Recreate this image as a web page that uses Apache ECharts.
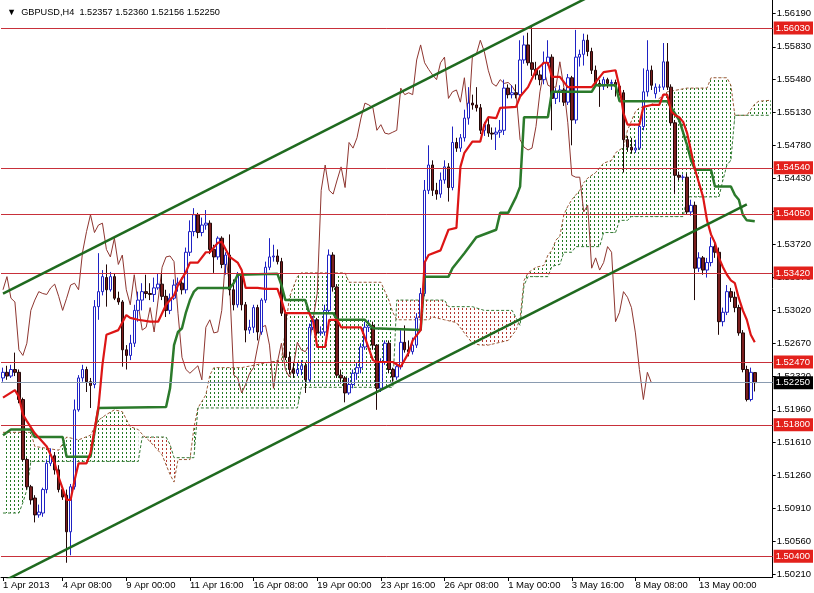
<!DOCTYPE html>
<html><head><meta charset="utf-8">
<script src="https://cdn.jsdelivr.net/npm/echarts/dist/echarts.min.js"></script>
<style>html,body{margin:0;padding:0;background:#fff}#c{width:814px;height:593px}</style>
</head><body><div id="c"></div>
<script>
// ---- data (GBPUSD H4, index 0 = 1 Apr 2013 20:00) ----
// [open, close, low, high]
const ohlc = [
[1.5230,1.5236,1.5226,1.5241],[1.5236,1.5232,1.5228,1.5243],[1.5232,1.5239,1.5230,1.5244],[1.5239,1.5236,1.5232,1.5257],
[1.5236,1.5207,1.5203,1.5239],[1.5207,1.5143,1.5141,1.5209],[1.5143,1.5114,1.5111,1.5145],[1.5114,1.5100,1.5095,1.5116],
[1.5102,1.5084,1.5076,1.5105],[1.5084,1.5087,1.5081,1.5095],[1.5086,1.5111,1.5082,1.5113],[1.5111,1.5139,1.5107,1.5143],
[1.5139,1.5148,1.5136,1.5155],[1.5147,1.5132,1.5127,1.5151],[1.5132,1.5111,1.5108,1.5137],[1.5111,1.5103,1.5100,1.5114],
[1.5105,1.5066,1.5033,1.5111],[1.5066,1.5114,1.5041,1.5117],[1.5114,1.5196,1.5111,1.5207],[1.5196,1.5230,1.5194,1.5233],
[1.5230,1.5239,1.5226,1.5244],[1.5239,1.5226,1.5215,1.5242],[1.5226,1.5222,1.5198,1.5230],[1.5223,1.5306,1.5219,1.5313],
[1.5306,1.5322,1.5292,1.5363],[1.5322,1.5338,1.5318,1.5345],[1.5337,1.5324,1.5306,1.5351],[1.5324,1.5338,1.5322,1.5343],
[1.5338,1.5315,1.5313,1.5341],[1.5315,1.5311,1.5308,1.5322],[1.5311,1.5260,1.5242,1.5313],[1.5260,1.5254,1.5239,1.5265],
[1.5254,1.5267,1.5249,1.5276],[1.5267,1.5302,1.5263,1.5308],[1.5302,1.5313,1.5290,1.5322],[1.5313,1.5322,1.5302,1.5331],
[1.5322,1.5320,1.5315,1.5340],[1.5320,1.5319,1.5313,1.5331],[1.5319,1.5326,1.5311,1.5337],[1.5326,1.5330,1.5324,1.5341],
[1.5330,1.5317,1.5313,1.5342],[1.5317,1.5302,1.5295,1.5324],[1.5302,1.5315,1.5298,1.5320],[1.5315,1.5329,1.5313,1.5335],
[1.5329,1.5331,1.5322,1.5337],[1.5331,1.5324,1.5319,1.5337],[1.5324,1.5364,1.5320,1.5369],[1.5364,1.5386,1.5360,1.5398],
[1.5386,1.5404,1.5381,1.5411],[1.5404,1.5385,1.5379,1.5406],[1.5385,1.5393,1.5381,1.5401],[1.5393,1.5395,1.5388,1.5409],
[1.5395,1.5367,1.5362,1.5398],[1.5367,1.5359,1.5342,1.5372],[1.5359,1.5379,1.5356,1.5381],[1.5379,1.5351,1.5347,1.5381],
[1.5351,1.5361,1.5340,1.5364],[1.5361,1.5324,1.5318,1.5383],[1.5324,1.5308,1.5302,1.5335],[1.5308,1.5340,1.5305,1.5343],
[1.5340,1.5308,1.5302,1.5345],[1.5308,1.5281,1.5268,1.5311],[1.5281,1.5284,1.5277,1.5292],[1.5284,1.5305,1.5278,1.5308],
[1.5305,1.5279,1.5270,1.5308],[1.5279,1.5313,1.5276,1.5315],[1.5313,1.5348,1.5310,1.5354],[1.5348,1.5359,1.5345,1.5379],
[1.5359,1.5360,1.5354,1.5372],[1.5360,1.5354,1.5351,1.5367],[1.5354,1.5299,1.5296,1.5358],[1.5299,1.5252,1.5249,1.5302],
[1.5252,1.5239,1.5234,1.5258],[1.5239,1.5235,1.5230,1.5247],[1.5235,1.5239,1.5232,1.5247],[1.5239,1.5243,1.5233,1.5249],
[1.5243,1.5228,1.5214,1.5247],[1.5228,1.5284,1.5226,1.5288],[1.5284,1.5292,1.5281,1.5296],[1.5292,1.5278,1.5275,1.5294],
[1.5278,1.5279,1.5275,1.5285],[1.5279,1.5302,1.5275,1.5308],[1.5302,1.5361,1.5300,1.5367],[1.5361,1.5327,1.5322,1.5364],
[1.5327,1.5233,1.5230,1.5330],[1.5233,1.5230,1.5224,1.5239],[1.5230,1.5214,1.5204,1.5232],[1.5214,1.5223,1.5212,1.5230],
[1.5223,1.5235,1.5219,1.5239],[1.5235,1.5241,1.5228,1.5247],[1.5241,1.5263,1.5235,1.5267],[1.5263,1.5284,1.5260,1.5290],
[1.5284,1.5286,1.5279,1.5292],[1.5286,1.5265,1.5260,1.5290],[1.5265,1.5219,1.5196,1.5266],[1.5219,1.5247,1.5215,1.5251],
[1.5247,1.5267,1.5244,1.5270],[1.5267,1.5239,1.5235,1.5270],[1.5239,1.5231,1.5226,1.5241],[1.5231,1.5242,1.5228,1.5247],
[1.5242,1.5268,1.5239,1.5281],[1.5268,1.5260,1.5257,1.5286],[1.5260,1.5258,1.5253,1.5270],[1.5258,1.5265,1.5255,1.5273],
[1.5265,1.5294,1.5262,1.5299],[1.5294,1.5320,1.5290,1.5326],[1.5320,1.5430,1.5317,1.5441],[1.5430,1.5457,1.5426,1.5478],
[1.5457,1.5430,1.5424,1.5462],[1.5430,1.5426,1.5420,1.5438],[1.5426,1.5441,1.5422,1.5449],[1.5441,1.5455,1.5437,1.5462],
[1.5455,1.5433,1.5418,1.5459],[1.5433,1.5481,1.5430,1.5498],[1.5481,1.5475,1.5471,1.5486],[1.5475,1.5486,1.5471,1.5490],
[1.5486,1.5507,1.5482,1.5516],[1.5507,1.5523,1.5500,1.5540],[1.5523,1.5521,1.5516,1.5532],[1.5521,1.5518,1.5514,1.5540],
[1.5518,1.5494,1.5490,1.5522],[1.5494,1.5500,1.5488,1.5503],[1.5500,1.5491,1.5487,1.5507],[1.5491,1.5490,1.5484,1.5497],
[1.5490,1.5492,1.5473,1.5497],[1.5492,1.5494,1.5486,1.5505],[1.5494,1.5539,1.5489,1.5548],[1.5539,1.5532,1.5528,1.5543],
[1.5532,1.5534,1.5528,1.5542],[1.5534,1.5532,1.5528,1.5543],[1.5532,1.5569,1.5528,1.5590],[1.5569,1.5585,1.5565,1.5595],
[1.5585,1.5566,1.5563,1.5598],[1.5566,1.5559,1.5552,1.5604],[1.5559,1.5553,1.5548,1.5567],[1.5553,1.5548,1.5542,1.5558],
[1.5548,1.5566,1.5543,1.5578],[1.5566,1.5572,1.5563,1.5590],[1.5572,1.5528,1.5494,1.5575],[1.5528,1.5535,1.5522,1.5539],
[1.5535,1.5537,1.5524,1.5542],[1.5537,1.5524,1.5520,1.5539],[1.5524,1.5550,1.5521,1.5554],[1.5550,1.5505,1.5478,1.5552],
[1.5505,1.5572,1.5501,1.5601],[1.5572,1.5575,1.5562,1.5580],[1.5575,1.5590,1.5563,1.5597],[1.5590,1.5578,1.5573,1.5596],
[1.5578,1.5558,1.5554,1.5582],[1.5558,1.5544,1.5540,1.5563],[1.5544,1.5541,1.5519,1.5548],[1.5541,1.5548,1.5537,1.5551],
[1.5548,1.5544,1.5539,1.5550],[1.5544,1.5545,1.5537,1.5548],[1.5545,1.5541,1.5530,1.5548],[1.5541,1.5534,1.5531,1.5543],
[1.5534,1.5484,1.5449,1.5537],[1.5484,1.5476,1.5471,1.5488],[1.5476,1.5473,1.5469,1.5486],[1.5473,1.5475,1.5470,1.5484],
[1.5475,1.5498,1.5473,1.5503],[1.5498,1.5535,1.5494,1.5560],[1.5535,1.5558,1.5530,1.5590],[1.5558,1.5542,1.5537,1.5563],
[1.5533,1.5540,1.5528,1.5544],[1.5540,1.5540,1.5535,1.5543],[1.5540,1.5567,1.5537,1.5587],[1.5567,1.5540,1.5537,1.5587],
[1.5540,1.5502,1.5499,1.5543],[1.5502,1.5446,1.5426,1.5505],[1.5446,1.5444,1.5441,1.5450],[1.5444,1.5444,1.5441,1.5447],
[1.5444,1.5407,1.5404,1.5448],[1.5407,1.5414,1.5403,1.5420],[1.5414,1.5347,1.5313,1.5418],[1.5347,1.5358,1.5343,1.5364],
[1.5358,1.5345,1.5340,1.5360],[1.5345,1.5353,1.5337,1.5358],[1.5353,1.5370,1.5349,1.5380],[1.5370,1.5364,1.5358,1.5377],
[1.5364,1.5290,1.5276,1.5369],[1.5290,1.5300,1.5285,1.5305],[1.5300,1.5322,1.5297,1.5329],[1.5322,1.5316,1.5311,1.5326],
[1.5316,1.5305,1.5300,1.5322],[1.5305,1.5278,1.5275,1.5308],[1.5278,1.5239,1.5236,1.5281],[1.5239,1.5207,1.5205,1.5243],
[1.5207,1.5236,1.5205,1.5241],[1.52357,1.52250,1.52156,1.52360]
];
// Ichimoku lines: [barIndex, price]
const tenkan = [[0,1.5209],[3,1.5217],[4,1.5210],[5,1.5191],[6,1.5184],[8,1.5171],[11,1.5157],[13,1.5139],[14,1.5124],[16,1.5100],[17,1.5100],[18,1.5121],[19,1.5139],[21,1.5139],[22,1.5150],[24,1.5199],[25,1.5244],[26,1.5276],[29,1.5281],[31,1.5297],[32,1.5294],[34,1.5292],[37,1.5290],[39,1.5290],[40,1.5299],[41,1.5308],[43,1.5318],[44,1.5329],[46,1.5343],[47,1.5353],[49,1.5353],[51,1.5364],[52,1.5364],[54,1.5374],[55,1.5375],[57,1.5359],[59,1.5353],[60,1.5345],[61,1.5326],[64,1.5326],[66,1.5325],[69,1.5325],[70,1.5313],[71,1.5299],[77,1.5299],[78,1.5290],[79,1.5263],[81,1.5263],[82,1.5292],[84,1.5292],[85,1.5284],[90,1.5284],[91,1.5273],[93,1.5249],[94,1.5247],[98,1.5247],[100,1.5242],[102,1.5257],[103,1.5270],[105,1.5281],[106,1.5353],[107,1.5361],[110,1.5366],[112,1.5388],[114,1.5390],[115,1.5455],[116,1.5470],[118,1.5482],[120,1.5482],[121,1.5500],[122,1.5508],[124,1.5507],[125,1.5518],[129,1.5519],[130,1.5530],[132,1.5540],[134,1.5558],[136,1.5566],[137,1.5566],[138,1.5551],[140,1.5551],[142,1.5540],[148,1.5540],[151,1.5556],[154,1.5558],[155,1.5540],[156,1.5512],[157,1.5500],[160,1.5500],[161,1.5519],[163,1.5521],[165,1.5521],[166,1.5532],[167,1.5532],[168,1.5514],[169,1.5510],[170,1.5508],[171,1.5503],[172,1.5491],[174,1.5452],[176,1.5423],[177,1.5398],[178,1.5383],[179,1.5374],[180,1.5358],[181,1.5348],[182,1.5340],[183,1.5334],[184,1.5331],[185,1.5315],[186,1.5302],[187,1.5292],[188,1.5276],[189,1.5268]];
const kijun = [[0,1.5169],[2,1.5175],[7,1.5175],[8,1.5167],[15,1.5167],[16,1.5146],[22,1.5146],[24,1.5198],[41,1.5199],[42,1.5219],[43,1.5265],[44,1.5279],[45,1.5283],[46,1.5300],[47,1.5313],[48,1.5322],[49,1.5326],[57,1.5326],[58,1.5331],[59,1.5340],[69,1.5341],[70,1.5329],[71,1.5313],[76,1.5313],[77,1.5299],[83,1.5299],[84,1.5292],[91,1.5292],[93,1.5283],[105,1.5281],[106,1.5338],[112,1.5338],[113,1.5347],[116,1.5363],[119,1.5380],[124,1.5388],[125,1.5406],[127,1.5406],[129,1.5423],[130,1.5434],[131,1.5508],[137,1.5508],[138,1.5535],[148,1.5535],[149,1.5542],[154,1.5542],[155,1.5525],[167,1.5525],[168,1.5518],[170,1.5505],[172,1.5478],[173,1.5462],[174,1.5452],[178,1.5452],[179,1.5434],[183,1.5434],[184,1.5425],[185,1.5420],[186,1.5404],[187,1.5398],[189,1.5397]];
const senkouA = [[0,1.5172],[7,1.5172],[8,1.5157],[14,1.5153],[16,1.5167],[19,1.5164],[22,1.5169],[24,1.5185],[26,1.5191],[28,1.5196],[30,1.5194],[32,1.5178],[34,1.5175],[35,1.5170],[37,1.5162],[40,1.5148],[42,1.5127],[43,1.5119],[44,1.5143],[47,1.5143],[48,1.5177],[49,1.5198],[51,1.5212],[52,1.5233],[53,1.5241],[60,1.5241],[66,1.5246],[70,1.5249],[71,1.5281],[72,1.5316],[74,1.5338],[75,1.5342],[86,1.5342],[87,1.5332],[95,1.5332],[97,1.5313],[98,1.5300],[99,1.5292],[107,1.5292],[108,1.5295],[111,1.5292],[114,1.5289],[118,1.5267],[120,1.5265],[122,1.5265],[124,1.5267],[127,1.5270],[129,1.5281],[130,1.5294],[131,1.5334],[132,1.5342],[134,1.5348],[136,1.5350],[137,1.5361],[138,1.5366],[139,1.5377],[140,1.5381],[141,1.5404],[142,1.5413],[143,1.5420],[145,1.5430],[146,1.5438],[147,1.5443],[149,1.5449],[151,1.5459],[153,1.5462],[154,1.5470],[156,1.5476],[157,1.5494],[159,1.5514],[160,1.5518],[163,1.5521],[167,1.5535],[172,1.5539],[177,1.5539],[178,1.5550],[182,1.5550],[183,1.5542],[184,1.5510],[187,1.5510],[188,1.5516],[189,1.5522],[190,1.5525],[193,1.5526]];
const senkouB = [[0,1.5086],[4,1.5086],[5,1.5097],[6,1.5111],[7,1.5141],[34,1.5141],[35,1.5167],[41,1.5167],[42,1.5159],[43,1.5145],[47,1.5145],[48,1.5145],[49,1.5198],[74,1.5198],[75,1.5220],[98,1.5220],[99,1.5313],[111,1.5313],[112,1.5306],[118,1.5306],[121,1.5302],[128,1.5302],[129,1.5294],[130,1.5286],[131,1.5329],[132,1.5338],[137,1.5338],[138,1.5349],[140,1.5351],[141,1.5364],[143,1.5364],[144,1.5370],[150,1.5370],[151,1.5385],[154,1.5385],[155,1.5398],[157,1.5398],[158,1.5402],[171,1.5402],[172,1.5423],[180,1.5423],[181,1.5441],[182,1.5457],[183,1.5462],[184,1.5510],[193,1.5510]];
// cloud pieces: [fromIndex, toIndex, 1 = span A above (green), 0 = span B above (red)]
const cloudSegments = [[0,34,1],[35,47,0],[47,98,1],[99,130,0],[131,193,1]];
// drawn trend channel: [barIndex, price]
const channelUpper = [[0,1.5320],[150,1.5642]];
const channelLower = [[0,1.5013],[187,1.5415]];
const levels = [1.5603,1.5454,1.5405,1.5342,1.5247,1.5180,1.5040];
const bidPrice = 1.5225;
const yTicks = [1.5021,1.5056,1.5091,1.5126,1.5161,1.5196,1.5232,1.5267,1.5302,1.5337,1.5372,1.5408,1.5443,1.5478,1.5513,1.5548,1.5583,1.5619];
const xTickIndex = [0,15,31,47,63,79,95,111,127,143,159,175];
const xTickText = ['1 Apr 2013','4 Apr 08:00','9 Apr 00:00','11 Apr 16:00','16 Apr 08:00','19 Apr 00:00','23 Apr 16:00','26 Apr 08:00','1 May 00:00','3 May 16:00','8 May 08:00','13 May 00:00'];
const slotCount = 194;
const chartTitle = '\u25BC  GBPUSD,H4  1.52357 1.52360 1.52156 1.52250';

// ---- chart ----
const FONT = 'Liberation Sans';
const categories = [];
for (let i = 0; i < slotCount; i++) categories.push(String(i));
const chikou = ohlc.slice(26).map((d, k) => [k, d[1]]);

function pattern(color) {
  const c = document.createElement('canvas');
  c.width = 4; c.height = 4;
  const g = c.getContext('2d');
  g.fillStyle = color;
  g.fillRect(2, 0, 1, 2);
  return { image: c, repeat: 'repeat' };
}
const greenPat = pattern('#237a23');
const redPat = pattern('#b23a32');

const showTick = (idx) => xTickIndex.indexOf(idx) >= 0;

const chart = echarts.init(document.getElementById('c'), null, { renderer: 'canvas' });
const lineBase = { type: 'line', symbol: 'none', showSymbol: false, silent: true, animation: false, clip: true };

chart.setOption({
  animation: false,
  backgroundColor: '#ffffff',
  title: { text: chartTitle, left: 2, top: 3, textStyle: { fontFamily: FONT, fontSize: 9.2, fontWeight: 'normal', color: '#000' } },
  grid: { left: 0, right: 38, top: 0, bottom: 16, containLabel: false },
  xAxis: {
    type: 'category', data: categories, boundaryGap: true,
    axisLine: { show: true, lineStyle: { color: '#000', width: 1 } },
    axisTick: { show: true, interval: showTick, alignWithLabel: true, length: 4, lineStyle: { color: '#000' } },
    axisLabel: { interval: showTick, align: 'left', margin: 3, color: '#000', fontFamily: FONT, fontSize: 9.5,
      formatter: (v, idx) => { const k = xTickIndex.indexOf(idx); return k >= 0 ? xTickText[k] : ''; } },
    splitLine: { show: false }
  },
  yAxis: {
    type: 'value', position: 'right', min: 1.50178, max: 1.56329, scale: true,
    axisLine: { show: true, lineStyle: { color: '#000', width: 1 } },
    axisTick: { show: true, length: 3, customValues: yTicks, lineStyle: { color: '#000' } },
    axisLabel: { margin: 4, color: '#000', fontFamily: FONT, fontSize: 9.5, customValues: yTicks,
      formatter: (v) => v.toFixed(5) },
    splitLine: { show: false }
  },
  series: [
    {
      type: 'custom', name: 'cloud', z: 1, silent: true, clip: true, animation: false,
      data: cloudSegments.map(s => [s[0], s[1]]),
      encode: { x: 0, y: -1 },
      renderItem: function (params, api) {
        const seg = cloudSegments[params.dataIndex];
        const a = senkouA.filter(p => p[0] >= seg[0] && p[0] <= seg[1]).map(p => api.coord(p));
        const b = senkouB.filter(p => p[0] >= seg[0] && p[0] <= seg[1]).map(p => api.coord(p)).reverse();
        return { type: 'polygon', shape: { points: a.concat(b) }, style: { fill: seg[2] ? greenPat : redPat, stroke: null } };
      }
    },
    Object.assign({}, lineBase, { name: 'Senkou A', z: 2, data: senkouA, lineStyle: { color: '#9c5a38', width: 1, type: [3, 2] } }),
    Object.assign({}, lineBase, { name: 'Senkou B', z: 2, data: senkouB, lineStyle: { color: '#357a35', width: 1, type: [3, 2] } }),
    Object.assign({}, lineBase, { name: 'Chikou', z: 2, data: chikou, lineStyle: { color: '#8e3630', width: 1 } }),
    {
      type: 'candlestick', name: 'GBPUSD', z: 3, barWidth: 3, silent: true, animation: false,
      data: ohlc,
      itemStyle: { color: '#ffffff', color0: '#7a1e1e', borderColor: '#1f22c4', borderColor0: '#220808', borderWidth: 1 },
      markLine: {
        silent: true, symbol: ['none', 'none'], animation: false, precision: 5,
        data: levels.map(v => ({ yAxis: v, name: v.toFixed(5) })).concat([{
          yAxis: bidPrice, name: bidPrice.toFixed(5),
          lineStyle: { color: '#8a9bb0', width: 1, type: 'solid' },
          label: { backgroundColor: '#000000' }
        }]),
        lineStyle: { color: '#c8303a', width: 1, type: 'solid' },
        label: { show: true, position: 'end', distance: 1, formatter: '{b}', color: '#ffffff', backgroundColor: '#e3211c',
          padding: [1, 3, 1, 2], fontFamily: FONT, fontSize: 9.5, lineHeight: 11 }
      }
    },
    Object.assign({}, lineBase, { name: 'Kijun', z: 4, data: kijun, lineStyle: { color: '#2b7a2b', width: 2.5 } }),
    Object.assign({}, lineBase, { name: 'Tenkan', z: 5, data: tenkan, lineStyle: { color: '#dd1515', width: 2.2 } }),
    Object.assign({}, lineBase, { name: 'Channel upper', z: 6, data: channelUpper, lineStyle: { color: '#1f6a1f', width: 2.5 } }),
    Object.assign({}, lineBase, { name: 'Channel lower', z: 6, data: channelLower, lineStyle: { color: '#1f6a1f', width: 2.5 } })
  ]
});
</script>
</body></html>
